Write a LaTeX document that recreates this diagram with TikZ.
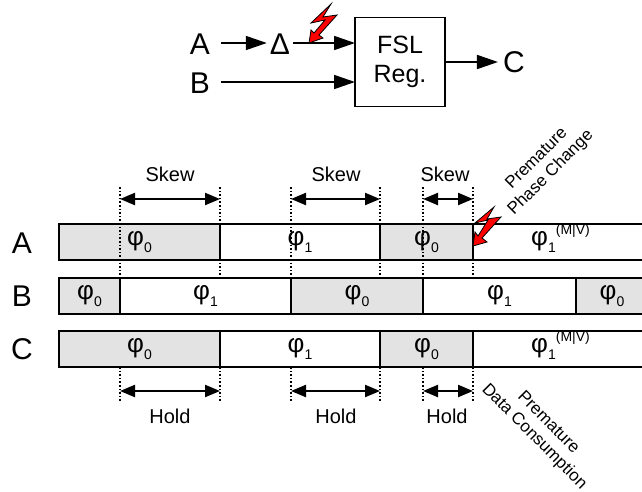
\documentclass[tikz,border=0pt]{standalone}
\usepackage{fontspec}
\setmainfont{Liberation Sans}
\usetikzlibrary{arrows.meta, positioning, calc}

\newcommand{\phaselabel}[2]{{\fontsize{26}{26}\selectfont φ}\raisebox{-7pt}{\fontsize{14}{14}\selectfont #1}#2}
\newcommand{\mvlabel}{\raisebox{11pt}[0pt][0pt]{\fontsize{14}{14}\selectfont (M|V)}}

\tikzset{
  signal/.style={font=\fontsize{30}{30}\selectfont, inner sep=0pt},
  gap/.style={font=\fontsize{20}{20}\selectfont, inner sep=0pt},
  note/.style={font=\fontsize{17}{20}\selectfont, align=center, inner sep=0pt},
  phaseoff/.style={draw, line width=1.8pt, fill=gray!22, minimum height=36pt, inner sep=0pt, outer sep=0pt, anchor=west},
  phaseon/.style={draw, line width=1.8pt, fill=white, minimum height=36pt, inner sep=0pt, outer sep=0pt, anchor=west},
  flow/.style={line width=1.7pt, -{Triangle[length=21pt,width=14pt]}},
  span/.style={line width=2.2pt, {Triangle[length=15pt,width=12pt]}-{Triangle[length=15pt,width=12pt]}},
  marker/.style={line width=1.6pt, dotted},
  bolt/.style={draw=black, line width=0.8pt, fill=red, line join=miter}
}

\begin{document}
\begin{tikzpicture}[x=1pt, y=-1pt]
\useasboundingbox (0,0) rectangle (642,491);

% Top - register
\node[draw, line width=1.8pt, minimum width=90pt, minimum height=89pt, outer sep=0pt, align=center, font=\fontsize{25}{29}\selectfont] (reg) at (400,62) {FSL\\Reg.};
\node[signal] (ina) at (200,44) {A};
\node[signal] (delta) at (280,44) {Δ};
\node[signal] (inb) at (200,83) {B};
\node[signal] (outc) at (514,62) {C};
\coordinate (rega) at ($(reg.west)+(0,-19)$);
\coordinate (regb) at ($(reg.west)+(0,20)$);

\draw[flow, shorten <=11pt, shorten >=3pt] (ina.east |- rega) -- (delta.west |- rega);
\draw[flow, shorten <=3pt] (delta.east |- rega) -- (rega);
\draw[flow, shorten <=11pt] (inb.east |- regb) -- (regb);
\draw[flow, shorten >=5pt] (reg.east) -- (outc.west);

% Bars - phases
\node[signal] (laba) at (22,243) {A};
\node[signal] (labb) at (22,296) {B};
\node[signal] (labc) at (22,349) {C};

\node[phaseoff, minimum width=161pt] (a0) at (59,242) {\phaselabel{0}{}};
\node[phaseon, minimum width=160pt] (a1) at (220,242) {\phaselabel{1}{}};
\node[phaseoff, minimum width=93pt] (a2) at (380,242) {\phaselabel{0}{}};
\node[phaseon, minimum width=175pt] (a3) at (473,242) {\phaselabel{1}{\mvlabel}};

\node[phaseoff, minimum width=61pt] (b0) at (59,296) {\phaselabel{0}{}};
\node[phaseon, minimum width=171pt] (b1) at (120,296) {\phaselabel{1}{}};
\node[phaseoff, minimum width=132pt] (b2) at (291,296) {\phaselabel{0}{}};
\node[phaseon, minimum width=153pt] (b3) at (423,296) {\phaselabel{1}{}};
\node[phaseoff, minimum width=72pt] (b4) at (576,296) {\phaselabel{0}{}};

\node[phaseoff, minimum width=161pt] (c0) at (59,349) {\phaselabel{0}{}};
\node[phaseon, minimum width=160pt] (c1) at (220,349) {\phaselabel{1}{}};
\node[phaseoff, minimum width=93pt] (c2) at (380,349) {\phaselabel{0}{}};
\node[phaseon, minimum width=175pt] (c3) at (473,349) {\phaselabel{1}{\mvlabel}};

% Skew
\foreach \name/\xa/\xb in {s1/120/220, s2/291/380, s3/423/473}{
  \coordinate (\name a) at (\xa,199);
  \coordinate (\name b) at (\xb,199);
  \draw[marker] (\xa,187) -- (\xa,278);
  \draw[marker] (\xb,187) -- (\xb,276);
  \draw[span] (\name a) -- (\name b);
}
\node[gap] (skewa) at (170,174) {Skew};
\node[gap] (skewb) at (336,174) {Skew};
\node[gap] (skewc) at (445,174) {Skew};

% Hold
\foreach \name/\xa/\xb in {h1/120/220, h2/291/380, h3/423/473}{
  \coordinate (\name a) at (\xa,391);
  \coordinate (\name b) at (\xb,391);
  \draw[marker] (\xa,367) -- (\xa,402);
  \draw[marker] (\xb,367) -- (\xb,402);
  \draw[span] (\name a) -- (\name b);
}
\node[gap] (holda) at (170,416) {Hold};
\node[gap] (holdb) at (336,416) {Hold};
\node[gap] (holdc) at (447,416) {Hold};

% Notes
\node[note, rotate=45] (phase) at (544,166) {Premature\\Phase Change};
\node[note, rotate=-45] (data) at (541,430) {Premature\\Data Consumption};

% Bolts
\fill[bolt] (331,4) -- (311,23) -- (325,20) -- (314,33) -- (311,30) -- (309,43) -- (323,38) -- (319,35) -- (337,15) -- (323,17) -- cycle;
\fill[bolt] (494,207) -- (475,223) -- (488,220) -- (478,236) -- (475,232) -- (473,246) -- (487,242) -- (482,238) -- (501,217) -- (487,219) -- cycle;
\end{tikzpicture}
\end{document}
